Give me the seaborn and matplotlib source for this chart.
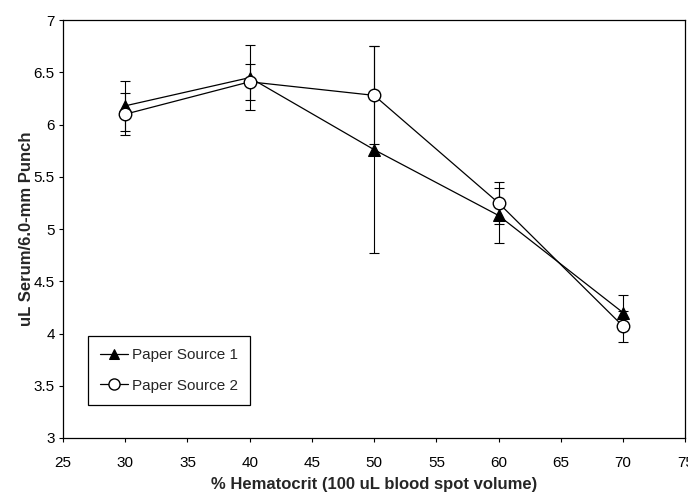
import pandas as pd
import matplotlib
matplotlib.use("Agg")
import matplotlib.pyplot as plt
import seaborn as sns

# data
hematocrit = [30, 40, 50, 60, 70]
source1_mean = [6.18, 6.45, 5.76, 5.13, 4.20]
source1_err = [0.24, 0.31, 0.99, 0.26, 0.17]
source2_mean = [6.10, 6.41, 6.28, 5.25, 4.07]
source2_err = [0.20, 0.17, 0.47, 0.20, 0.15]
series_names = ['Paper Source 1', 'Paper Source 2']

df = pd.DataFrame({
    'Hematocrit': hematocrit * 2,
    'Serum': source1_mean + source2_mean,
    'Err': source1_err + source2_err,
    'Source': [series_names[0]] * 5 + [series_names[1]] * 5,
})

sns.set_style("ticks")
plt.rcParams['font.family'] = ['Liberation Sans', 'DejaVu Sans']

fig = plt.figure(figsize=(6.88, 4.92), dpi=100)
ax = fig.add_axes([0.0916, 0.1098, 0.9044, 0.8492])

# error bars first so markers sit on top
for name in series_names:
    sub = df[df['Source'] == name]
    ax.errorbar(sub['Hematocrit'], sub['Serum'], yerr=sub['Err'], fmt='none',
                ecolor='black', elinewidth=0.8, capsize=3.5, capthick=0.8, zorder=1)

sns.lineplot(data=df, x='Hematocrit', y='Serum', hue='Source', style='Source',
             markers={'Paper Source 1': '^', 'Paper Source 2': 'o'},
             dashes=False, palette=['black', 'black'], linewidth=0.9,
             markersize=8.5, ax=ax, zorder=3)

# filled triangle, open circle
for line in ax.get_lines():
    if line.get_marker() == 'o':
        line.set_markerfacecolor('white')
        line.set_markeredgecolor('black')
        line.set_markeredgewidth(1.0)
        line.set_markersize(9)
    elif line.get_marker() == '^':
        line.set_markerfacecolor('black')
        line.set_markeredgecolor('black')

ax.set_xlim(25, 75)
ax.set_ylim(3, 7)
ax.set_xticks(range(25, 80, 5))
ax.set_yticks([3, 3.5, 4, 4.5, 5, 5.5, 6, 6.5, 7])
ax.set_yticklabels(['3', '3.5', '4', '4.5', '5', '5.5', '6', '6.5', '7'])
ax.tick_params(axis='both', labelsize=11, length=3, width=0.8, colors='black')
ax.tick_params(axis='x', pad=10)
ax.tick_params(axis='y', pad=3)
for spine in ax.spines.values():
    spine.set_visible(True)
    spine.set_color('black')
    spine.set_linewidth(0.9)

ax.set_xlabel('% Hematocrit (100 uL blood spot volume)', fontsize=12, fontweight='bold', labelpad=5)
ax.set_ylabel('uL Serum/6.0-mm Punch', fontsize=12, fontweight='bold', labelpad=0)
ax.yaxis.set_label_coords(-0.046, 0.5)

handles, labels = ax.get_legend_handles_labels()
for h in handles:
    if h.get_marker() == 'o':
        h.set_markerfacecolor('white')
        h.set_markeredgecolor('black')
        h.set_markersize(8)
    else:
        h.set_markerfacecolor('black')
        h.set_markersize(7.5)
leg = ax.legend(handles, labels, loc='lower left', bbox_to_anchor=(0.04, 0.079),
                borderaxespad=0, fontsize=11, frameon=True, fancybox=False,
                edgecolor='black', framealpha=1, handlelength=1.8, handletextpad=0.3,
                labelspacing=1.1, borderpad=0.8)
leg.get_frame().set_linewidth(0.9)

fig.savefig('out.png', dpi=100)
